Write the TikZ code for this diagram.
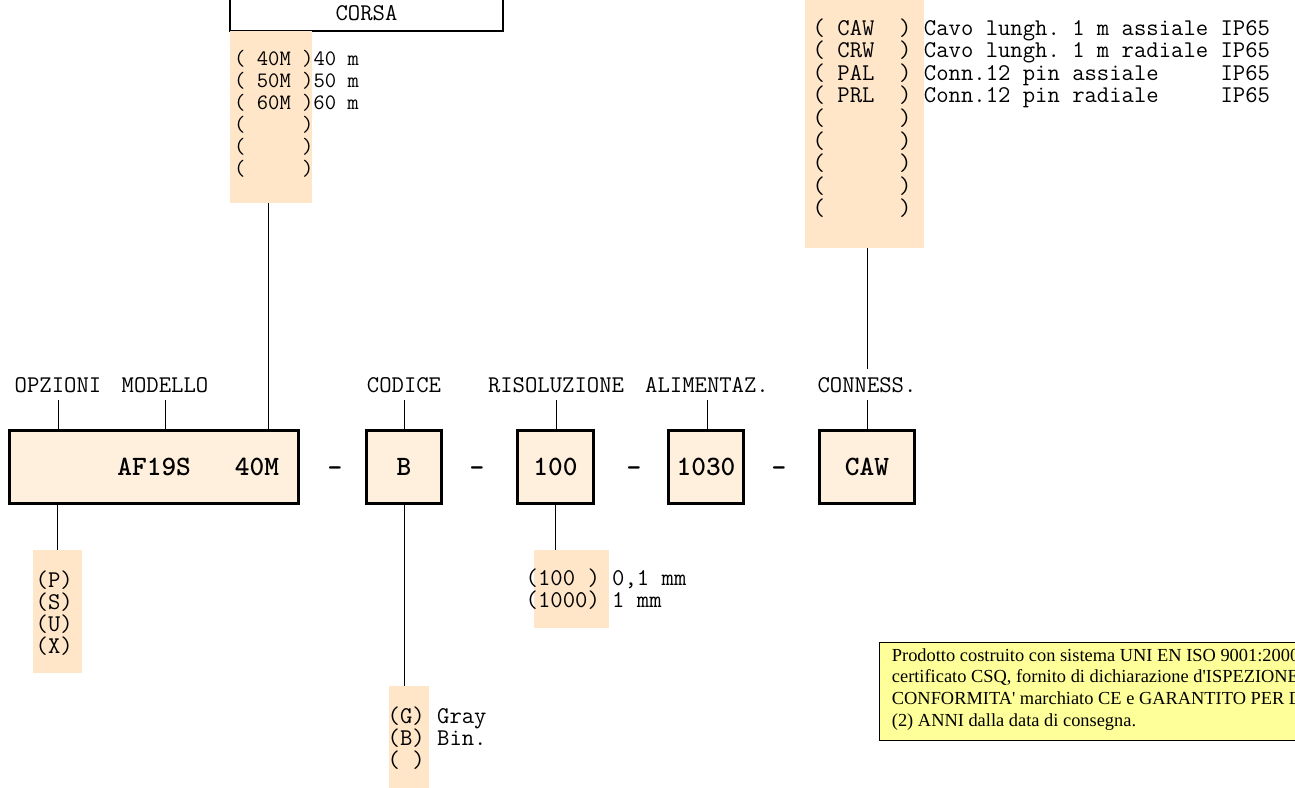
\documentclass[tikz,border=0pt]{standalone}
\usepackage{fontspec}
\newfontfamily\notefont{Liberation Serif}
\definecolor{formfill}{HTML}{FFF0DD}
\definecolor{choicefill}{HTML}{FFE6C9}
\definecolor{notefill}{HTML}{FFFF99}
\newcommand{\formfont}{\ttfamily\fontsize{24}{22}\selectfont}
\newcommand{\formbold}{\ttfamily\bfseries\fontsize{28}{30}\selectfont}

\begin{document}
\begin{tikzpicture}[x=1pt,y=-1pt,field/.style={draw,line width=3pt,fill=formfill,inner sep=0pt,minimum height=73pt,font=\formbold},choice/.style={fill=choicefill,inner sep=0pt},tag/.style={font=\formfont,inner sep=0pt,outer sep=8pt,text depth=0pt,anchor=base},opt/.style={font=\formfont,inner sep=0pt,anchor=base west},link/.style={line width=1pt},sep/.style={font=\formbold,inner sep=0pt,anchor=base}]
\useasboundingbox (0,0) rectangle (1295,787);
\clip (0,0) rectangle (1295,787);
% code fields
\node[field,minimum width=289pt,text width=250pt,align=right] (mod) at (154,467) {AF19S\hspace{44pt}40M};
\node[field,minimum width=75pt] (cod) at (404,467) {B};
\node[field,minimum width=76pt] (ris) at (555.5,467) {100};
\node[field,minimum width=75pt] (ali) at (706,467) {1030};
\node[field,minimum width=95pt] (con) at (867,467) {CAW};
\node[sep] (d1) at (335,476) {-};
\node[sep] (d2) at (477,476) {-};
\node[sep] (d3) at (634,476) {-};
\node[sep] (d4) at (779,476) {-};
% field names
\node[tag] (lopz) at (58,392) {OPZIONI};
\node[tag] (lmod) at (165,392) {MODELLO};
\node[tag] (lcod) at (404,392) {CODICE};
\node[tag] (lris) at (556,392) {RISOLUZIONE};
\node[tag] (lali) at (707,392) {ALIMENTAZ.};
\node[tag] (lcon) at (867,392) {CONNESS.};
\foreach \t/\f in {lopz/mod,lmod/mod,lcod/cod,lris/ris,lali/ali,lcon/con}
  \draw[link] (\t.south) -- (\t.south |- \f.north);
% choice lists
\node[draw,line width=1.2pt,fill=white,minimum width=273pt,minimum height=35.4pt,inner sep=0pt,font=\formfont] (corsa) at (366.5,13.3) {CORSA};
\node[choice,minimum width=82pt,minimum height=172pt] (corlist) at (271,117) {};
\node[choice,minimum width=119pt,minimum height=253pt] (cawlist) at (864.5,121.5) {};
\node[choice,minimum width=49pt,minimum height=123pt] (plist) at (57.5,611.5) {};
\node[choice,minimum width=75pt,minimum height=78pt] (rlist) at (571.5,589) {};
\node[choice,minimum width=40pt,minimum height=104pt] (glist) at (409,738) {};
\coordinate (corfoot) at ([xshift=-3pt]corlist.south);
\draw[link] (corfoot) -- (corfoot |- mod.north);
\draw[link] (lcon.north |- cawlist.south) -- (lcon.north);
\draw[link] (plist.north |- mod.south) -- (plist.north);
\draw[link] (cod.south) -- (cod.south |- glist.north);
\draw[link] (ris.south) -- (ris.south |- rlist.north);
\foreach \lbl [count=\i] in {{(~40M~)40~m},{(~50M~)50~m},{(~60M~)60~m},{(~~~~~)},{(~~~~~)},{(~~~~~)}}
  \node[opt,font=\ttfamily\fontsize{22}{22}\selectfont] (cor\i) at (234,{65+22*(\i-1)}) {\lbl};
\foreach \lbl [count=\i] in {{(~CAW~~)~Cavo~lungh.~1~m~assiale~IP65},{(~CRW~~)~Cavo~lungh.~1~m~radiale~IP65},{(~PAL~~)~Conn.12~pin~assiale~~~~~IP65},{(~PRL~~)~Conn.12~pin~radiale~~~~~IP65},{(~~~~~~)},{(~~~~~~)},{(~~~~~~)},{(~~~~~~)},{(~~~~~~)}}
  \node[opt] (caw\i) at (812.5,{35+22.6*(\i-1)}) {\lbl};
\foreach \lbl [count=\i] in {{(P)},{(S)},{(U)},{(X)}}
  \node[opt] (opz\i) at (35.5,{587+22*(\i-1)}) {\lbl};
\foreach \lbl [count=\i] in {{(100~)~0,1~mm},{(1000)~1~mm}}
  \node[opt] (ris\i) at (525.5,{585+22.5*(\i-1)}) {\lbl};
\foreach \lbl [count=\i] in {{(G)~Gray},{(B)~Bin.},{(~)}}
  \node[opt] (cod\i) at (387.5,{723+22*(\i-1)}) {\lbl};
% note
\node[draw,line width=1.2pt,fill=notefill,minimum width=440pt,minimum height=98pt,inner sep=0pt] (note) at (1099.5,691.5) {};
\foreach \lbl [count=\i] in {{Prodotto costruito con sistema UNI EN ISO 9001:2000},{certificato CSQ, fornito di dichiarazione d'ISPEZIONE},{CONFORMITA' marchiato CE e GARANTITO PER DUE},{(2) ANNI dalla data di consegna.}}
  \node[anchor=base west,inner sep=0pt,font=\notefont\fontsize{18.4}{21.7}\selectfont] (nota\i) at (891.7,{661+21.7*(\i-1)}) {\lbl};
\end{tikzpicture}
\end{document}
